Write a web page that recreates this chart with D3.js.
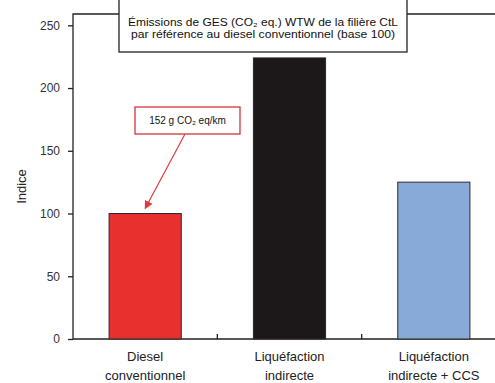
<!doctype html>
<head>
  <meta charset="utf-8">
  <script src="https://cdnjs.cloudflare.com/ajax/libs/d3/7.8.2/d3.min.js"></script>
</head>
<style>
    body { margin: 0; background: #fff; overflow: hidden; }
    svg { display: block; overflow: hidden; font-family: "Liberation Sans", Arial, sans-serif; }
</style>
<body>
    <div id="chart"></div>
    <script>
        // Données
        const categories = [["Diesel", "conventionnel"], ["Liquéfaction", "indirecte"], ["Liquéfaction", "indirecte + CCS"]];
        const values = [100, 224, 125];
        const colors = ["#e8302f", "#1c1819", "#88aad8"];
        const yTicks = [0, 50, 100, 150, 200, 250];
        const titleLines = ["Émissions de GES (CO₂ eq.) WTW de la filière CtL", "par référence au diesel conventionnel (base 100)"];
        const noteText = "152 g CO₂ eq/km";

        const width = 495, height = 383;
        const margin = {left: 73, top: 14, right: -11, bottom: 44};
        const innerW = width - margin.left - margin.right;
        const innerH = height - margin.top - margin.bottom;

        const svg = d3.select("#chart").append("svg")
            .attr("width", width).attr("height", height);

        const g = svg.append("g").attr("transform", `translate(${margin.left},${margin.top})`);

        const x = d3.scaleBand().domain(d3.range(categories.length)).range([0, innerW])
            .paddingInner(0.5).paddingOuter(0.25);
        const y = d3.scaleLinear().domain([0, 259]).range([innerH, 0]);

        // Cadre (haut, gauche, bas) : coupé par le bord droit de l'image
        g.append("path").attr("d", `M${innerW},0 H0 V${innerH} H${innerW}`)
            .attr("fill", "none").attr("stroke", "#222").attr("stroke-width", 1.3);

        // Barres
        g.selectAll(".bar").data(values).enter().append("rect")
            .attr("x", (d, i) => x(i))
            .attr("y", d => y(d))
            .attr("width", x.bandwidth())
            .attr("height", d => innerH - y(d))
            .attr("fill", (d, i) => colors[i])
            .attr("stroke", "#2a2a2a").attr("stroke-width", 1);

        // Axe Y
        const yAxis = g.append("g").call(d3.axisLeft(y).tickValues(yTicks).tickSize(5).tickPadding(8));
        yAxis.select(".domain").remove();
        yAxis.selectAll("line").attr("stroke", "#222").attr("stroke-width", 1.3);
        yAxis.selectAll("text").attr("font-size", 12).attr("fill", "#333")
            .attr("font-family", "Liberation Sans, Arial, sans-serif");

        // Séparateurs de catégories sur l'axe X
        g.selectAll(".sep").data(d3.range(1, categories.length)).enter().append("line")
            .attr("x1", i => x(i) - x.step() * 0.25).attr("x2", i => x(i) - x.step() * 0.25)
            .attr("y1", innerH).attr("y2", innerH - 5)
            .attr("stroke", "#222").attr("stroke-width", 1.3);

        // Libellés X
        const xl = g.selectAll(".xl").data(categories).enter().append("text")
            .attr("text-anchor", "middle").attr("font-size", 13).attr("fill", "#222");
        xl.each(function (lines, i) {
            lines.forEach((t, k) => {
                d3.select(this).append("tspan")
                    .attr("x", x(i) + x.bandwidth() / 2)
                    .attr("y", innerH + 22 + k * 19)
                    .text(t);
            });
        });

        // Titre axe Y
        svg.append("text").attr("transform", `translate(26,${margin.top + innerH / 2 + 10}) rotate(-90)`)
            .attr("text-anchor", "middle").attr("font-size", 13).attr("fill", "#222").text("Indice");

        // Boîte de titre
        svg.append("rect").attr("x", 119).attr("y", -2).attr("width", 288).attr("height", 54)
            .attr("fill", "#fff").attr("stroke", "#222").attr("stroke-width", 1.3);
        titleLines.forEach((t, k) => {
            svg.append("text").attr("x", 263).attr("y", 26 + k * 12)
                .attr("text-anchor", "middle").attr("font-size", 10).attr("fill", "#111")
                .attr("textLength", k === 0 ? 270 : 264).attr("lengthAdjust", "spacingAndGlyphs")
                .text(t);
        });

        // Annotation
        svg.append("rect").attr("x", 135).attr("y", 107).attr("width", 105).attr("height", 27)
            .attr("fill", "#fff").attr("stroke", "#d8333a").attr("stroke-width", 1.3);
        svg.append("text").attr("x", 187.5).attr("y", 124).attr("text-anchor", "middle")
            .attr("font-size", 10).attr("fill", "#111").text(noteText);

        svg.append("defs").append("marker").attr("id", "arr")
            .attr("viewBox", "0 0 10 10").attr("refX", 9).attr("refY", 5)
            .attr("markerWidth", 7).attr("markerHeight", 7).attr("orient", "auto")
            .append("path").attr("d", "M0,0 L10,5 L0,10 z").attr("fill", "#e03a3e");
        const tipX = margin.left + x(0) + x.bandwidth() / 2;
        const tipY = margin.top + y(values[0]) - 5;
        svg.append("line").attr("x1", 185).attr("y1", 134).attr("x2", tipX).attr("y2", tipY)
            .attr("stroke", "#e03a3e").attr("stroke-width", 1.2).attr("marker-end", "url(#arr)");
    </script>
</body>
